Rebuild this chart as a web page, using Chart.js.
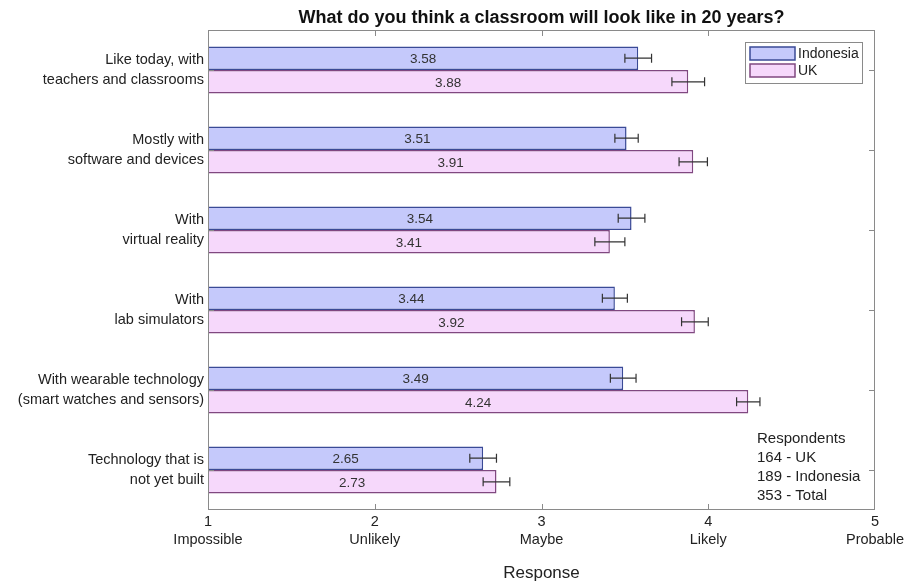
<!DOCTYPE html>
<html>
<head>
<meta charset="utf-8">
<script src="https://cdn.jsdelivr.net/npm/chart.js@4"></script>
<style>
  html, body { margin: 0; padding: 0; background: #fff; }
  #wrap { width: 904px; height: 583px; }
</style>
</head>
<body>
<div id="wrap"><canvas id="chart" width="904" height="583"></canvas></div>
<script>
// ── Data ─────────────────────────────────────────────────────
const categories = [
  ['Like today, with', 'teachers and classrooms'],
  ['Mostly with', 'software and devices'],
  ['With', 'virtual reality'],
  ['With', 'lab simulators'],
  ['With wearable technology', '(smart watches and sensors)'],
  ['Technology that is', 'not yet built']
];
const indonesiaMeans = [3.58, 3.51, 3.54, 3.44, 3.49, 2.65];
const ukMeans        = [3.88, 3.91, 3.41, 3.92, 4.24, 2.73];
const indonesiaErr   = [0.08, 0.07, 0.08, 0.075, 0.077, 0.08];
const ukErr          = [0.098, 0.085, 0.09, 0.08, 0.07, 0.08];
const xTickValues    = [1, 2, 3, 4, 5];
const xTickWords     = ['Impossible', 'Unlikely', 'Maybe', 'Likely', 'Probable'];
const respondents    = ['Respondents', '164 - UK', '189 - Indonesia', '353 - Total'];

const FONT = 'Arial, "Liberation Sans", Helvetica, sans-serif';
const COL = {
  indoFill: 'rgb(197,201,251)', indoLine: 'rgb(58,74,150)',
  ukFill:   'rgb(246,216,251)', ukLine:   'rgb(128,72,128)',
  axis: '#8a8a8a', text: '#222'
};

// ── Plugin: box, inward ticks, error bars, value labels, legend, notes ──
const decorations = {
  id: 'decorations',
  afterDatasetsDraw(chart) {
    const ctx = chart.ctx;
    const a = chart.chartArea;
    const xs = chart.scales.x, ys = chart.scales.y;
    ctx.save();

    // error bars + value labels
    const errs = [indonesiaErr, ukErr];
    chart.data.datasets.forEach((ds, di) => {
      const meta = chart.getDatasetMeta(di);
      meta.data.forEach((bar, i) => {
        const v = ds.data[i], e = errs[di][i];
        const x0 = xs.getPixelForValue(v - e), x1 = xs.getPixelForValue(v + e);
        const y = bar.y;
        ctx.strokeStyle = '#333';
        ctx.lineWidth = 1.2;
        ctx.beginPath();
        ctx.moveTo(x0, y); ctx.lineTo(x1, y);
        ctx.moveTo(x0, y - 4.5); ctx.lineTo(x0, y + 4.5);
        ctx.moveTo(x1, y - 4.5); ctx.lineTo(x1, y + 4.5);
        ctx.stroke();

        const cx = (xs.getPixelForValue(xs.min) + bar.x) / 2;
        ctx.fillStyle = '#333';
        ctx.font = '13.5px ' + FONT;
        ctx.textAlign = 'center';
        ctx.textBaseline = 'middle';
        ctx.fillText(v.toFixed(2), cx, y + 1);
      });
    });

    // plot box
    ctx.strokeStyle = COL.axis;
    ctx.lineWidth = 1;
    ctx.strokeRect(a.left + 0.5, a.top + 0.5, a.right - a.left - 1, a.bottom - a.top - 1);

    // inward ticks
    ctx.beginPath();
    xTickValues.slice(1, -1).forEach(v => {
      const x = Math.round(xs.getPixelForValue(v)) + 0.5;
      ctx.moveTo(x, a.bottom); ctx.lineTo(x, a.bottom - 6);
      ctx.moveTo(x, a.top); ctx.lineTo(x, a.top + 6);
    });
    categories.forEach((c, i) => {
      const y = Math.round(ys.getPixelForValue(i)) + 0.5;
      ctx.moveTo(a.left, y); ctx.lineTo(a.left + 6, y);
      ctx.moveTo(a.right, y); ctx.lineTo(a.right - 6, y);
    });
    ctx.stroke();

    // title
    ctx.fillStyle = '#111';
    ctx.font = 'bold 18px ' + FONT;
    ctx.textAlign = 'center';
    ctx.textBaseline = 'middle';
    ctx.fillText('What do you think a classroom will look like in 20 years?', (a.left + a.right) / 2, 18);

    // x axis title
    ctx.fillStyle = COL.text;
    ctx.font = '17px ' + FONT;
    ctx.fillText('Response', (a.left + a.right) / 2, 573);

    // legend
    const lx = 745, ly = 42, lw = 117, lh = 41;
    ctx.fillStyle = '#fff';
    ctx.fillRect(lx, ly, lw, lh);
    ctx.strokeStyle = COL.axis;
    ctx.lineWidth = 1;
    ctx.strokeRect(lx + 0.5, ly + 0.5, lw, lh);
    chart.data.datasets.forEach((ds, di) => {
      const ry = ly + 5 + di * 17;
      ctx.fillStyle = ds.backgroundColor;
      ctx.fillRect(lx + 5, ry, 45, 13);
      ctx.strokeStyle = ds.borderColor;
      ctx.lineWidth = 1.5;
      ctx.strokeRect(lx + 5, ry, 45, 13);
      ctx.fillStyle = COL.text;
      ctx.font = '14px ' + FONT;
      ctx.textAlign = 'left';
      ctx.fillText(ds.label, lx + 53, ry + 7);
    });

    // respondents note
    ctx.font = '15px ' + FONT;
    ctx.fillStyle = COL.text;
    ctx.textAlign = 'left';
    respondents.forEach((t, i) => ctx.fillText(t, 757, 439 + i * 19));

    ctx.restore();
  }
};

new Chart(document.getElementById('chart'), {
  type: 'bar',
  data: {
    labels: categories,
    datasets: [
      { label: 'Indonesia', data: indonesiaMeans, backgroundColor: COL.indoFill, borderColor: COL.indoLine, borderWidth: 1.5, borderSkipped: false },
      { label: 'UK',        data: ukMeans,        backgroundColor: COL.ukFill,   borderColor: COL.ukLine,   borderWidth: 1.5, borderSkipped: false }
    ]
  },
  options: {
    indexAxis: 'y',
    responsive: false,
    animation: false,
    categoryPercentage: 0.59,
    barPercentage: 1,
    layout: { padding: { top: 30, right: 29, left: 0, bottom: 0 } },
    plugins: { legend: { display: false }, tooltip: { enabled: false }, title: { display: false } },
    scales: {
      x: {
        type: 'linear', min: 1, max: 5,
        grid: { display: false },
        border: { display: false },
        afterBuildTicks: s => { s.ticks = xTickValues.map(v => ({ value: v })); },
        afterFit: s => { s.height = 73; },
        ticks: {
          color: COL.text, font: { size: 14.5, family: FONT, lineHeight: 1.25 }, padding: -5, maxRotation: 0,
          autoSkip: false,
          callback: (v) => [String(v), xTickWords[xTickValues.indexOf(v)]]
        }
      },
      y: {
        grid: { display: false },
        border: { display: false },
        afterFit: s => { s.width = 208; },
        ticks: { color: COL.text, font: { size: 14.5, family: FONT, lineHeight: 1.4 }, padding: -4 }
      }
    }
  },
  plugins: [decorations]
});
</script>
</body>
</html>
